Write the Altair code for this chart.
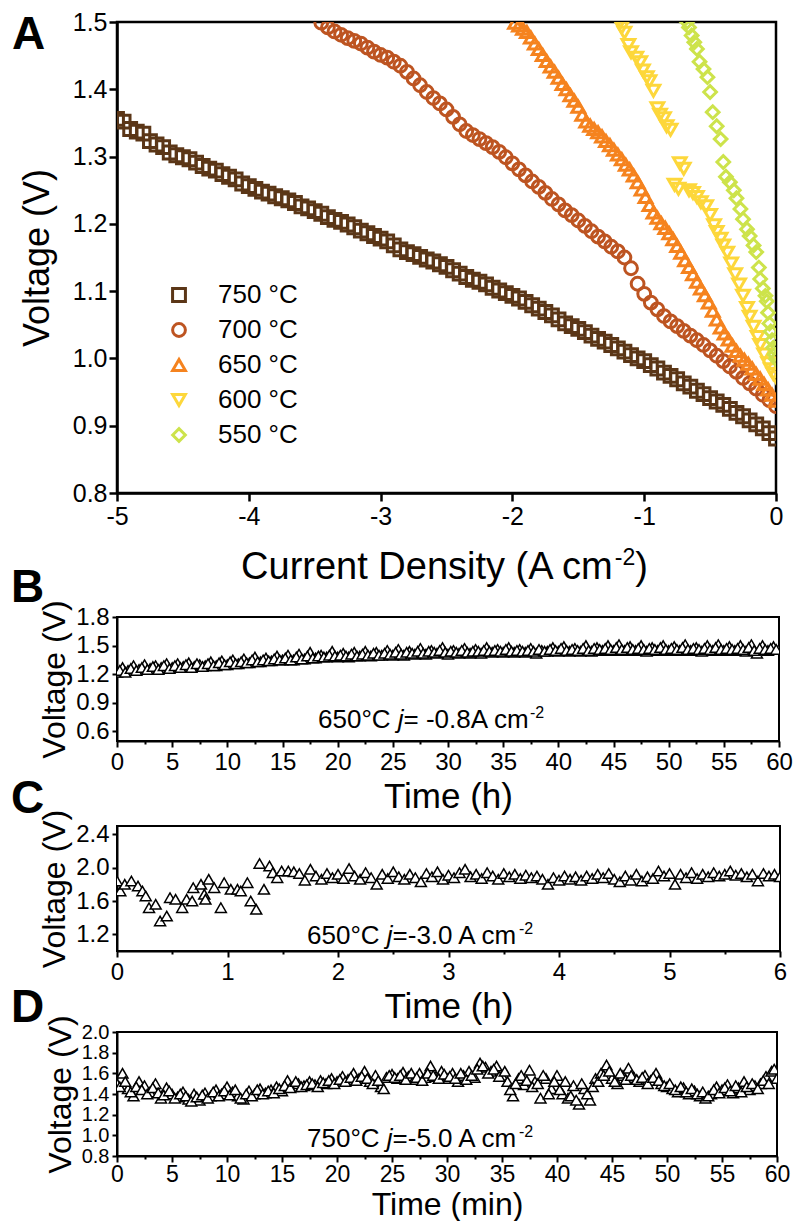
import altair as alt
import pandas as pd

FONT = "Liberation Sans, Arial, Helvetica, sans-serif"

# ---------------- Panel A data ----------------
TEMPS = ["750 °C", "700 °C", "650 °C", "600 °C", "550 °C"]
COLORS = ["#5B3617", "#BD5421", "#F5831F", "#FDD73B", "#CDE34B"]
SHAPES = ["square", "circle", "triangle-up", "triangle-down", "diamond"]
SIZES = [165, 160, 230, 300, 280]

IV_750 = [(-5.00, 1.356), (-4.95, 1.352), (-4.90, 1.341), (-4.85, 1.337), (-4.80, 1.334),
          (-4.75, 1.323), (-4.70, 1.318), (-4.65, 1.314), (-4.60, 1.306), (-4.55, 1.302),
          (-4.50, 1.299), (-4.45, 1.296), (-4.40, 1.291), (-4.35, 1.286), (-4.30, 1.282),
          (-4.25, 1.279), (-4.20, 1.274), (-4.15, 1.270), (-4.10, 1.266), (-4.05, 1.260),
          (-4.00, 1.256), (-3.95, 1.252), (-3.90, 1.248), (-3.85, 1.245), (-3.80, 1.241),
          (-3.75, 1.238), (-3.70, 1.235), (-3.65, 1.231), (-3.60, 1.226), (-3.55, 1.223),
          (-3.50, 1.219), (-3.45, 1.215), (-3.40, 1.210), (-3.35, 1.206), (-3.30, 1.203),
          (-3.25, 1.199), (-3.20, 1.195), (-3.15, 1.190), (-3.10, 1.186), (-3.05, 1.182),
          (-3.00, 1.178), (-2.95, 1.174), (-2.90, 1.168), (-2.85, 1.162), (-2.80, 1.158),
          (-2.75, 1.155), (-2.70, 1.151), (-2.65, 1.147), (-2.60, 1.144), (-2.55, 1.140),
          (-2.50, 1.136), (-2.45, 1.131), (-2.40, 1.126), (-2.35, 1.121), (-2.30, 1.117),
          (-2.25, 1.114), (-2.20, 1.110), (-2.15, 1.105), (-2.10, 1.101), (-2.05, 1.097),
          (-2.00, 1.093), (-1.95, 1.089), (-1.90, 1.084), (-1.85, 1.079), (-1.80, 1.074),
          (-1.75, 1.069), (-1.70, 1.064), (-1.65, 1.058), (-1.60, 1.052), (-1.55, 1.048),
          (-1.50, 1.044), (-1.45, 1.039), (-1.40, 1.034), (-1.35, 1.029), (-1.30, 1.025),
          (-1.25, 1.020), (-1.20, 1.015), (-1.15, 1.010), (-1.10, 1.005), (-1.05, 1.000),
          (-1.00, 0.996), (-0.95, 0.990), (-0.90, 0.985), (-0.85, 0.979), (-0.80, 0.974),
          (-0.75, 0.969), (-0.70, 0.963), (-0.65, 0.958), (-0.60, 0.952), (-0.55, 0.947),
          (-0.50, 0.941), (-0.45, 0.936), (-0.40, 0.931), (-0.35, 0.925), (-0.30, 0.919),
          (-0.25, 0.914), (-0.20, 0.908), (-0.15, 0.902), (-0.10, 0.896), (-0.05, 0.889),
          (0.00, 0.881)]

IV_700 = [(-3.45, 1.499), (-3.40, 1.492), (-3.35, 1.486), (-3.30, 1.481), (-3.25, 1.476),
          (-3.20, 1.472), (-3.15, 1.468), (-3.10, 1.462), (-3.05, 1.456), (-3.00, 1.451),
          (-2.95, 1.447), (-2.90, 1.441), (-2.85, 1.435), (-2.80, 1.426), (-2.75, 1.416),
          (-2.70, 1.406), (-2.65, 1.396), (-2.60, 1.387), (-2.55, 1.379), (-2.50, 1.370),
          (-2.45, 1.359), (-2.40, 1.348), (-2.35, 1.338), (-2.30, 1.332), (-2.25, 1.326),
          (-2.20, 1.320), (-2.15, 1.314), (-2.10, 1.307), (-2.05, 1.299), (-2.00, 1.290),
          (-1.95, 1.281), (-1.90, 1.272), (-1.85, 1.263), (-1.80, 1.255), (-1.75, 1.246),
          (-1.70, 1.237), (-1.65, 1.229), (-1.60, 1.220), (-1.55, 1.213), (-1.50, 1.205),
          (-1.45, 1.197), (-1.40, 1.189), (-1.35, 1.181), (-1.30, 1.174), (-1.25, 1.166),
          (-1.20, 1.159), (-1.15, 1.150), (-1.10, 1.134), (-1.05, 1.111), (-1.00, 1.096),
          (-0.95, 1.083), (-0.90, 1.073), (-0.85, 1.063), (-0.80, 1.055), (-0.75, 1.048),
          (-0.70, 1.041), (-0.65, 1.034), (-0.60, 1.027), (-0.55, 1.020), (-0.50, 1.012),
          (-0.45, 1.004), (-0.40, 0.996), (-0.35, 0.988), (-0.30, 0.980), (-0.25, 0.971),
          (-0.20, 0.963), (-0.15, 0.955), (-0.10, 0.946), (-0.05, 0.938), (0.00, 0.929)]

IV_650 = [(-1.98, 1.499), (-1.95, 1.495), (-1.92, 1.490), (-1.89, 1.485), (-1.86, 1.477),
          (-1.83, 1.468), (-1.80, 1.460), (-1.77, 1.451), (-1.74, 1.442), (-1.71, 1.434),
          (-1.68, 1.426), (-1.65, 1.417), (-1.62, 1.408), (-1.59, 1.400), (-1.56, 1.391),
          (-1.53, 1.383), (-1.50, 1.374), (-1.47, 1.362), (-1.44, 1.352), (-1.41, 1.346),
          (-1.38, 1.341), (-1.35, 1.336), (-1.32, 1.330), (-1.29, 1.323), (-1.26, 1.317),
          (-1.23, 1.310), (-1.20, 1.303), (-1.17, 1.296), (-1.14, 1.288), (-1.11, 1.281),
          (-1.08, 1.272), (-1.05, 1.262), (-1.02, 1.251), (-0.99, 1.240), (-0.96, 1.228),
          (-0.93, 1.217), (-0.90, 1.209), (-0.87, 1.201), (-0.84, 1.194), (-0.81, 1.186),
          (-0.78, 1.177), (-0.75, 1.167), (-0.72, 1.157), (-0.69, 1.146), (-0.66, 1.136),
          (-0.63, 1.125), (-0.60, 1.114), (-0.57, 1.104), (-0.54, 1.094), (-0.51, 1.083),
          (-0.48, 1.071), (-0.45, 1.058), (-0.42, 1.046), (-0.39, 1.037), (-0.36, 1.028),
          (-0.33, 1.019), (-0.30, 1.011), (-0.27, 1.004), (-0.24, 0.998), (-0.21, 0.992),
          (-0.18, 0.985), (-0.15, 0.977), (-0.12, 0.970), (-0.09, 0.962), (-0.06, 0.954),
          (-0.03, 0.946), (0.00, 0.937)]

IV_600 = [(-1.18, 1.500), (-1.17, 1.492), (-1.15, 1.484), (-1.12, 1.466), (-1.10, 1.455),
          (-1.06, 1.447), (-1.03, 1.440), (-1.01, 1.428), (-0.98, 1.418), (-0.96, 1.412),
          (-0.93, 1.398), (-0.90, 1.372), (-0.88, 1.362), (-0.85, 1.357), (-0.83, 1.345),
          (-0.80, 1.340), (-0.73, 1.290), (-0.70, 1.282), (-0.77, 1.258), (-0.74, 1.252),
          (-0.66, 1.250), (-0.63, 1.246), (-0.60, 1.240), (-0.57, 1.232), (-0.53, 1.226),
          (-0.50, 1.213), (-0.47, 1.198), (-0.45, 1.188), (-0.42, 1.178), (-0.40, 1.168),
          (-0.37, 1.157), (-0.34, 1.141), (-0.31, 1.125), (-0.28, 1.110), (-0.25, 1.093),
          (-0.22, 1.075), (-0.20, 1.062), (-0.17, 1.047), (-0.14, 1.032), (-0.12, 1.020),
          (-0.09, 1.006), (-0.06, 0.993), (-0.04, 0.984), (-0.02, 0.977), (0.00, 0.972)]

IV_550 = [(-0.675, 1.500), (-0.66, 1.492), (-0.64, 1.480), (-0.62, 1.470), (-0.60, 1.460),
          (-0.58, 1.441), (-0.55, 1.430), (-0.52, 1.418), (-0.50, 1.396), (-0.48, 1.366),
          (-0.45, 1.345), (-0.42, 1.326), (-0.40, 1.292), (-0.38, 1.270), (-0.35, 1.262),
          (-0.32, 1.250), (-0.30, 1.238), (-0.27, 1.222), (-0.25, 1.207), (-0.22, 1.192),
          (-0.20, 1.182), (-0.17, 1.168), (-0.15, 1.158), (-0.13, 1.135), (-0.12, 1.118),
          (-0.10, 1.104), (-0.08, 1.093), (-0.07, 1.085), (-0.06, 1.068), (-0.05, 1.052),
          (-0.04, 1.040), (-0.03, 1.027), (-0.02, 1.016), (-0.01, 1.006), (0.00, 0.999)]

A_XTICKS = [-5, -4, -3, -2, -1, 0]
A_YTICKS = [0.8, 0.9, 1.0, 1.1, 1.2, 1.3, 1.4, 1.5]

# ---------------- Panel B data (650 C, -0.8 A cm-2) ----------------
B_DATA = [(0.0, 1.22), (0.5, 1.27), (1.0, 1.24), (1.5, 1.29), (2.0, 1.25), (2.5, 1.30),
          (3.0, 1.26), (3.5, 1.29), (4.0, 1.27), (4.5, 1.31), (5.0, 1.27),
          (5.5, 1.31), (6.0, 1.28), (6.5, 1.32), (7.0, 1.28), (7.5, 1.30), (8.0, 1.29),
          (8.5, 1.33), (9.0, 1.29), (9.5, 1.34), (10.0, 1.30),
          (10.5, 1.35), (11.0, 1.31), (11.5, 1.36), (12.0, 1.32), (12.5, 1.38), (13.0, 1.33),
          (13.5, 1.37), (14.0, 1.34), (14.5, 1.39), (15.0, 1.35),
          (15.5, 1.40), (16.0, 1.35), (16.5, 1.41), (17.0, 1.36), (17.5, 1.43), (18.0, 1.37),
          (18.5, 1.40), (19.0, 1.38), (19.5, 1.44), (20.0, 1.38),
          (20.5, 1.42), (21.0, 1.38), (21.5, 1.43), (22.0, 1.39), (22.5, 1.44), (23.0, 1.39),
          (23.5, 1.43), (24.0, 1.40), (24.5, 1.45), (25.0, 1.40),
          (25.5, 1.46), (26.0, 1.40), (26.5, 1.44), (27.0, 1.41), (27.5, 1.47), (28.0, 1.41),
          (28.5, 1.45), (29.0, 1.42), (29.5, 1.48), (30.0, 1.41),
          (30.5, 1.45), (31.0, 1.42), (31.5, 1.47), (32.0, 1.42), (32.5, 1.46), (33.0, 1.42),
          (33.5, 1.48), (34.0, 1.43), (34.5, 1.46), (35.0, 1.43),
          (35.5, 1.48), (36.0, 1.43), (36.5, 1.46), (37.0, 1.43), (37.5, 1.47), (38.0, 1.42),
          (38.5, 1.45), (39.0, 1.44), (39.5, 1.48), (40.0, 1.44),
          (40.5, 1.49), (41.0, 1.44), (41.5, 1.47), (42.0, 1.44), (42.5, 1.50), (43.0, 1.44),
          (43.5, 1.48), (44.0, 1.45), (44.5, 1.50), (45.0, 1.45),
          (45.5, 1.51), (46.0, 1.45), (46.5, 1.49), (47.0, 1.45), (47.5, 1.50), (48.0, 1.44),
          (48.5, 1.48), (49.0, 1.45), (49.5, 1.50), (50.0, 1.45),
          (50.5, 1.49), (51.0, 1.45), (51.5, 1.51), (52.0, 1.45), (52.5, 1.48), (53.0, 1.44),
          (53.5, 1.50), (54.0, 1.45), (54.5, 1.51), (55.0, 1.45),
          (55.5, 1.49), (56.0, 1.45), (56.5, 1.50), (57.0, 1.44), (57.5, 1.51), (58.0, 1.42),
          (58.5, 1.50), (59.0, 1.45), (59.5, 1.49), (60.0, 1.46)]
B_DATA2 = [(0.25, 1.24), (0.75, 1.22), (1.25, 1.26), (1.75, 1.24), (2.25, 1.27), (2.75, 1.25),
           (3.25, 1.28), (3.75, 1.25), (4.25, 1.29), (4.75, 1.26), (5.25, 1.29), (5.75, 1.27),
           (6.25, 1.30), (6.75, 1.27), (7.25, 1.31), (7.75, 1.28), (8.25, 1.31), (8.75, 1.29),
           (9.25, 1.32), (9.75, 1.30), (10.25, 1.33), (10.75, 1.31), (11.25, 1.33), (11.75, 1.32),
           (12.25, 1.35), (12.75, 1.33), (13.25, 1.35), (13.75, 1.34), (14.25, 1.36), (14.75, 1.35),
           (15.25, 1.37), (15.75, 1.35), (16.25, 1.38), (16.75, 1.36), (17.25, 1.39), (17.75, 1.37),
           (18.25, 1.39), (18.75, 1.38), (19.25, 1.40), (19.75, 1.39), (20.25, 1.40), (20.75, 1.39),
           (21.25, 1.41), (21.75, 1.39), (22.25, 1.41), (22.75, 1.40), (23.25, 1.42), (23.75, 1.40),
           (24.25, 1.42), (24.75, 1.41), (25.25, 1.43), (25.75, 1.41), (26.25, 1.43), (26.75, 1.42),
           (27.25, 1.44), (27.75, 1.42), (28.25, 1.44), (28.75, 1.43), (29.25, 1.45), (29.75, 1.43),
           (30.25, 1.44), (30.75, 1.43), (31.25, 1.45), (31.75, 1.43), (32.25, 1.44), (32.75, 1.44),
           (33.25, 1.45), (33.75, 1.44), (34.25, 1.45), (34.75, 1.44), (35.25, 1.46), (35.75, 1.44),
           (36.25, 1.45), (36.75, 1.44), (37.25, 1.45), (37.75, 1.44), (38.25, 1.46), (38.75, 1.44),
           (39.25, 1.46), (39.75, 1.45), (40.25, 1.47), (40.75, 1.45), (41.25, 1.46), (41.75, 1.45),
           (42.25, 1.47), (42.75, 1.45), (43.25, 1.47), (43.75, 1.46), (44.25, 1.47), (44.75, 1.46),
           (45.25, 1.48), (45.75, 1.46), (46.25, 1.48), (46.75, 1.46), (47.25, 1.47), (47.75, 1.46),
           (48.25, 1.47), (48.75, 1.46), (49.25, 1.48), (49.75, 1.46), (50.25, 1.47), (50.75, 1.46),
           (51.25, 1.48), (51.75, 1.46), (52.25, 1.47), (52.75, 1.46), (53.25, 1.47), (53.75, 1.46),
           (54.25, 1.48), (54.75, 1.46), (55.25, 1.47), (55.75, 1.46), (56.25, 1.47), (56.75, 1.46),
           (57.25, 1.48), (57.75, 1.45), (58.25, 1.47), (58.75, 1.46), (59.25, 1.47), (59.75, 1.46)]
B_XTICKS = [0, 2.5, 5, 7.5, 10, 12.5, 15, 17.5, 20, 22.5, 25, 27.5, 30, 32.5, 35, 37.5,
            40, 42.5, 45, 47.5, 50, 52.5, 55, 57.5, 60]
B_YTICKS = [0.6, 0.9, 1.2, 1.5, 1.8]

# ---------------- Panel C data (650 C, -3.0 A cm-2) ----------------
C_DATA = [(0.00, 1.84), (0.03, 1.72), (0.07, 1.80), (0.13, 1.84), (0.19, 1.78), (0.23, 1.72),
          (0.26, 1.66), (0.29, 1.52), (0.35, 1.56), (0.39, 1.36), (0.45, 1.42), (0.48, 1.64),
          (0.53, 1.62), (0.59, 1.52), (0.63, 1.62), (0.68, 1.60), (0.69, 1.76), (0.76, 1.80),
          (0.79, 1.68), (0.80, 1.62), (0.83, 1.86), (0.88, 1.76), (0.94, 1.52), (0.97, 1.82),
          (1.03, 1.74), (1.09, 1.74), (1.12, 1.72), (1.18, 1.82), (1.21, 1.60), (1.26, 1.50),
          (1.29, 2.05), (1.33, 1.74), (1.38, 2.02), (1.41, 1.94), (1.45, 1.88), (1.49, 1.96),
          (1.55, 1.96),
          (1.60, 1.95), (1.65, 1.93), (1.70, 1.85), (1.75, 1.98), (1.80, 1.90), (1.85, 1.86),
          (1.90, 1.93), (1.95, 1.88), (2.00, 1.92), (2.05, 1.87), (2.10, 1.99), (2.15, 1.90),
          (2.20, 1.86), (2.25, 1.94), (2.30, 1.88), (2.35, 1.80), (2.40, 1.92), (2.45, 1.87),
          (2.50, 1.95), (2.55, 1.89), (2.60, 1.86), (2.65, 1.92), (2.70, 1.88), (2.75, 1.83),
          (2.80, 1.93), (2.85, 1.89), (2.90, 1.95), (2.95, 1.86), (3.00, 1.91), (3.05, 1.88),
          (3.10, 1.94), (3.15, 1.98), (3.20, 1.89), (3.25, 1.92), (3.30, 1.87), (3.35, 1.94),
          (3.40, 1.90), (3.45, 1.86), (3.50, 1.93), (3.55, 1.89), (3.60, 1.92), (3.65, 1.87),
          (3.70, 1.91), (3.75, 1.88), (3.80, 1.90), (3.85, 1.86), (3.90, 1.80), (3.95, 1.88),
          (4.00, 1.85), (4.05, 1.90), (4.10, 1.86), (4.15, 1.89), (4.20, 1.85), (4.25, 1.90),
          (4.30, 1.87), (4.35, 1.92), (4.40, 1.88), (4.45, 1.93), (4.50, 1.86), (4.55, 1.83),
          (4.60, 1.90), (4.65, 1.85), (4.70, 1.92), (4.75, 1.84), (4.80, 1.89), (4.85, 1.87),
          (4.90, 1.96), (4.95, 1.90), (5.00, 1.93), (5.05, 1.80), (5.10, 1.92), (5.15, 1.88),
          (5.20, 1.94), (5.25, 1.87), (5.30, 1.92), (5.35, 1.89), (5.40, 1.94), (5.45, 1.90),
          (5.50, 1.92), (5.55, 1.96), (5.60, 1.91), (5.65, 1.93), (5.70, 1.89), (5.75, 1.92),
          (5.80, 1.84), (5.85, 1.93), (5.90, 1.90), (5.95, 1.92), (6.00, 1.89)]
C_XTICKS = [0, 0.5, 1, 1.5, 2, 2.5, 3, 3.5, 4, 4.5, 5, 5.5, 6]
C_YTICKS = [1.2, 1.6, 2.0, 2.4]

# ---------------- Panel D data (750 C, -5.0 A cm-2) ----------------
D_DATA = [(0.0, 1.50), (0.5, 1.60), (1.0, 1.45), (1.5, 1.38), (2.0, 1.52), (2.5, 1.48),
          (3.0, 1.42), (3.5, 1.50), (4.0, 1.36), (4.5, 1.46), (5.0, 1.40), (5.5, 1.37),
          (6.0, 1.42), (6.5, 1.35), (7.0, 1.40), (7.5, 1.34), (8.0, 1.41), (8.5, 1.38),
          (9.0, 1.44), (9.5, 1.40), (10.0, 1.47), (10.5, 1.42), (11.0, 1.38), (11.5, 1.35),
          (12.0, 1.43), (12.5, 1.40), (13.0, 1.45), (13.5, 1.41), (14.0, 1.44), (14.5, 1.47),
          (15.0, 1.43), (15.5, 1.53), (16.0, 1.47), (16.5, 1.50), (17.0, 1.48), (17.5, 1.52),
          (18.0, 1.49), (18.5, 1.53), (19.0, 1.50), (19.5, 1.55), (20.0, 1.52), (20.5, 1.57),
          (21.0, 1.54), (21.5, 1.60), (22.0, 1.55), (22.5, 1.62), (23.0, 1.52), (23.5, 1.58),
          (24.0, 1.47), (24.5, 1.56), (25.0, 1.59), (25.5, 1.55), (26.0, 1.61), (26.5, 1.57),
          (27.0, 1.54), (27.5, 1.60), (28.0, 1.56), (28.5, 1.67), (29.0, 1.57), (29.5, 1.62),
          (30.0, 1.55), (30.5, 1.60), (31.0, 1.52), (31.5, 1.58), (32.0, 1.62), (32.5, 1.56),
          (33.0, 1.70), (33.5, 1.66), (34.0, 1.62), (34.5, 1.67), (35.0, 1.58), (35.5, 1.52),
          (36.0, 1.38), (36.5, 1.55), (37.0, 1.49), (37.5, 1.63), (38.0, 1.52), (38.5, 1.36),
          (39.0, 1.55), (39.5, 1.45), (40.0, 1.58), (40.5, 1.40), (41.0, 1.36), (41.5, 1.48),
          (42.0, 1.30), (42.5, 1.45), (43.0, 1.34), (43.5, 1.55), (44.0, 1.60), (44.5, 1.68),
          (45.0, 1.55), (45.5, 1.50), (46.0, 1.58), (46.5, 1.65), (47.0, 1.56), (47.5, 1.52),
          (48.0, 1.58), (48.5, 1.53), (49.0, 1.60), (49.5, 1.50), (50.0, 1.47), (50.5, 1.45),
          (51.0, 1.42), (51.5, 1.46), (52.0, 1.40), (52.5, 1.43), (53.0, 1.38), (53.5, 1.36),
          (54.0, 1.40), (54.5, 1.47), (55.0, 1.44), (55.5, 1.49), (56.0, 1.41), (56.5, 1.46),
          (57.0, 1.52), (57.5, 1.44), (58.0, 1.48), (58.5, 1.50), (59.0, 1.57), (59.5, 1.62),
          (60.0, 1.55)]
D_DATA2 = [(0.25, 1.47), (0.75, 1.52), (1.25, 1.42), (1.75, 1.47), (2.25, 1.44), (2.75, 1.40),
           (3.25, 1.46), (3.75, 1.41), (4.25, 1.39), (4.75, 1.43), (5.25, 1.36), (5.75, 1.40),
           (6.25, 1.38), (6.75, 1.33), (7.25, 1.37), (7.75, 1.39), (8.25, 1.36), (8.75, 1.42),
           (9.25, 1.38), (9.75, 1.43), (10.25, 1.39), (10.75, 1.44), (11.25, 1.36), (11.75, 1.40),
           (12.25, 1.38), (12.75, 1.44), (13.25, 1.40), (13.75, 1.43), (14.25, 1.41), (14.75, 1.45),
           (15.25, 1.48), (15.75, 1.46), (16.25, 1.52), (16.75, 1.47), (17.25, 1.49), (17.75, 1.50),
           (18.25, 1.47), (18.75, 1.51), (19.25, 1.53), (19.75, 1.50), (20.25, 1.54), (20.75, 1.52),
           (21.25, 1.56), (21.75, 1.53), (22.25, 1.57), (22.75, 1.55), (23.25, 1.50), (23.75, 1.53),
           (24.25, 1.45), (24.75, 1.58), (25.25, 1.56), (25.75, 1.58), (26.25, 1.54), (26.75, 1.60),
           (27.25, 1.56), (27.75, 1.53), (28.25, 1.60), (28.75, 1.58), (29.25, 1.55), (29.75, 1.59),
           (30.25, 1.57), (30.75, 1.55), (31.25, 1.60), (31.75, 1.54), (32.25, 1.58), (32.75, 1.64),
           (33.25, 1.67), (33.75, 1.60), (34.25, 1.64), (34.75, 1.57), (35.25, 1.62), (35.75, 1.44),
           (36.25, 1.50), (36.75, 1.58), (37.25, 1.53), (37.75, 1.47), (38.25, 1.50), (38.75, 1.58),
           (39.25, 1.40), (39.75, 1.52), (40.25, 1.44), (40.75, 1.52), (41.25, 1.38), (41.75, 1.34),
           (42.25, 1.50), (42.75, 1.40), (43.25, 1.47), (43.75, 1.52), (44.25, 1.58), (44.75, 1.62),
           (45.25, 1.52), (45.75, 1.60), (46.25, 1.54), (46.75, 1.58), (47.25, 1.54), (47.75, 1.56),
           (48.25, 1.50), (48.75, 1.56), (49.25, 1.53), (49.75, 1.48), (50.25, 1.50), (50.75, 1.44),
           (51.25, 1.47), (51.75, 1.42), (52.25, 1.45), (52.75, 1.40), (53.25, 1.42), (53.75, 1.38),
           (54.25, 1.44), (54.75, 1.41), (55.25, 1.46), (55.75, 1.43), (56.25, 1.48), (56.75, 1.42),
           (57.25, 1.47), (57.75, 1.50), (58.25, 1.45), (58.75, 1.53), (59.25, 1.50), (59.75, 1.64)]
D_XTICKS = B_XTICKS
D_YTICKS = [0.8, 1.0, 1.2, 1.4, 1.6, 1.8, 2.0]

# ---------------- helpers ----------------
ONE = alt.Data(values=[{"k": 1}])

ARIAL_W = {"0": .556, "1": .556, "2": .556, "3": .556, "4": .556, "5": .556, "6": .556,
           "7": .556, "8": .556, "9": .556, "°": .4, "C": .722, " ": .278, "j": .222,
           "=": .584, "-": .333, ".": .278, "A": .667, "c": .5, "m": .833, "(": .333,
           ")": .333, "u": .556, "r": .333, "e": .556, "n": .556, "t": .278, "D": .722,
           "s": .5, "i": .222, "y": .5}


def text_width(s, fs):
    return sum(ARIAL_W.get(ch, 0.556) for ch in s) * fs


def rich_text(pieces, x0, y0):
    """pieces: (text, fontSize, italic, rise)"""
    layers = []
    x = x0
    for txt, fs, italic, rise in pieces:
        layers.append(
            alt.Chart(ONE).mark_text(
                text=txt, font=FONT, fontSize=fs, align="left", baseline="alphabetic",
                fontStyle="italic" if italic else "normal", color="black"
            ).encode(x=alt.value(x), y=alt.value(y0 - rise))
        )
        x += text_width(txt, fs)
    return layers


def letter(ch, x, y):
    return alt.Chart(ONE).mark_text(
        text=ch, font=FONT, fontSize=46, fontWeight="bold", align="left",
        baseline="top", color="black"
    ).encode(x=alt.value(x), y=alt.value(y))


def minor_tick_size(test, minor, major):
    return {"condition": {"test": test, "value": minor}, "value": major}


# ---------------- Panel A ----------------
rows = []
for name, series in zip(TEMPS, [IV_750, IV_700, IV_650, IV_600, IV_550]):
    for j, v in series:
        rows.append({"j": j, "v": v, "T": name})
dfA = pd.DataFrame(rows)

leg = alt.Legend(orient="none", legendX=49, legendY=260, title=None, labelFontSize=26,
                 labelFont=FONT, labelColor="black", symbolSize=150, symbolStrokeWidth=3,
                 rowPadding=9, labelOffset=26, padding=0, symbolType="circle")

A_W, A_H = 659, 471
pointsA = alt.Chart(dfA).mark_point(filled=False, strokeWidth=3, opacity=1, clip=True).encode(
    x=alt.X("j:Q", scale=alt.Scale(domain=[-5, 0], nice=False, zero=False),
            axis=alt.Axis(values=A_XTICKS, labelExpr="toString(datum.value)", title=None,
                          labelFontSize=25, tickSize=8, tickWidth=2.5, domainWidth=2.5,
                          labelPadding=3, labelFlush=False, labelOverlap=False, grid=False)),
    y=alt.Y("v:Q", scale=alt.Scale(domain=[0.8, 1.5], nice=False, zero=False),
            axis=alt.Axis(values=A_YTICKS, format=".1f", title="Voltage (V)",
                          titleFontSize=36, titlePadding=16, labelFontSize=25, tickSize=8,
                          tickWidth=2.5, domainWidth=2.5, labelPadding=2, labelFlush=False,
                          labelOverlap=False, grid=False)),
    color=alt.Color("T:N", scale=alt.Scale(domain=TEMPS, range=COLORS), legend=leg),
    shape=alt.Shape("T:N", scale=alt.Scale(domain=TEMPS, range=SHAPES), legend=leg),
    size=alt.Size("T:N", scale=alt.Scale(domain=TEMPS, range=SIZES), legend=None),
)

xtitle_pieces = [("Current Density (A cm", 38, False, 0), ("-2", 23, False, 14), (")", 38, False, 0)]
xt_w = sum(text_width(t, f) for t, f, _, _ in xtitle_pieces)
A_layers = [pointsA, letter("A", -105, -9)] + rich_text(xtitle_pieces, A_W / 2 - xt_w / 2 - 2, 557)
panelA = alt.layer(*A_layers).properties(
    width=A_W, height=A_H, view=alt.ViewBackground(stroke="black", strokeWidth=2.5))


# ---------------- Time panels ----------------
def time_panel(data, xticks, xdomain, xtitle, minor_test, major_test, ydomain, yticks,
               w, h, letter_ch, letter_y, note_pieces, note_x, note_y, ylab_fs=24,
               xtitle_fs=35, xtitle_pad=5, xlab_pad=3, xlab_fs=24):
    df = pd.DataFrame(data, columns=["t", "v"])
    pts = alt.Chart(df).mark_point(shape="triangle-up", filled=True, fill="white",
                                   stroke="black", strokeWidth=1.5, size=120, opacity=1,
                                   clip=True).encode(
        x=alt.X("t:Q", scale=alt.Scale(domain=xdomain, nice=False, zero=False),
                axis=alt.Axis(values=xticks, title=xtitle, titleFontSize=xtitle_fs,
                              titlePadding=xtitle_pad, labelFontSize=xlab_fs,
                              labelPadding=xlab_pad,
                              labelExpr=f"{major_test} ? toString(datum.value) : ''",
                              tickSize=minor_tick_size(minor_test, 3, 6),
                              tickWidth=2, domainWidth=2, labelFlush=False,
                              labelOverlap=False, grid=False)),
        y=alt.Y("v:Q", scale=alt.Scale(domain=ydomain, nice=False, zero=False),
                axis=alt.Axis(values=yticks, format=".1f", title="Voltage (V)",
                              titleFontSize=32, titlePadding=4, labelFontSize=ylab_fs,
                              labelPadding=3, tickSize=5, tickWidth=2, domainWidth=2,
                              labelFlush=False, labelOverlap=False, grid=False)),
    )
    layers = [pts, letter(letter_ch, -106, letter_y)] + rich_text(note_pieces, note_x, note_y)
    return alt.layer(*layers).properties(
        width=w, height=h, view=alt.ViewBackground(stroke="black", strokeWidth=2))


panelB = time_panel(B_DATA + B_DATA2, B_XTICKS, [0, 60], "Time (h)", "datum.value % 5 != 0",
                    "datum.value % 5 == 0", [0.5, 1.8], B_YTICKS, 662, 124, "B", -51,
                    [("650°C ", 26, False, 0), ("j", 26, True, 0), ("= -0.8A cm", 26, False, 0),
                     ("-2", 16, False, 10)], 201, 111)
panelC = time_panel(C_DATA, C_XTICKS, [0, 6], "Time (h)", "datum.value % 1 != 0",
                    "datum.value % 1 == 0", [1.0, 2.5], C_YTICKS, 663, 125, "C", -49,
                    [("650°C ", 26, False, 0), ("j", 26, True, 0), ("=-3.0 A cm", 26, False, 0),
                     ("-2", 16, False, 10)], 190, 118)
panelD = time_panel(D_DATA + D_DATA2, D_XTICKS, [0, 60], "Time (min)", "datum.value % 5 != 0",
                    "datum.value % 5 == 0", [0.8, 2.0], D_YTICKS, 660, 124, "D", -46,
                    [("750°C ", 26, False, 0), ("j", 26, True, 0), ("=-5.0 A cm", 26, False, 0),
                     ("-2", 16, False, 10)], 190, 115, ylab_fs=20, xtitle_fs=32, xtitle_pad=3,
                    xlab_pad=1, xlab_fs=23)

inner2 = alt.vconcat(panelC, panelD, spacing=81, bounds="flush")
inner1 = alt.vconcat(panelB, inner2, spacing=85, bounds="flush")
chart = alt.vconcat(panelA, inner1, spacing=124, bounds="flush").properties(
    padding={"left": 2, "top": 0, "right": 0, "bottom": 0}, background="white"
).configure(font=FONT).configure_axis(
    labelFont=FONT, titleFont=FONT, labelColor="black", titleColor="black",
    domainColor="black", tickColor="black", titleFontWeight="normal"
).configure_view(stroke="black")

chart.save("out.html", embed_options={"renderer": "svg", "actions": False})
